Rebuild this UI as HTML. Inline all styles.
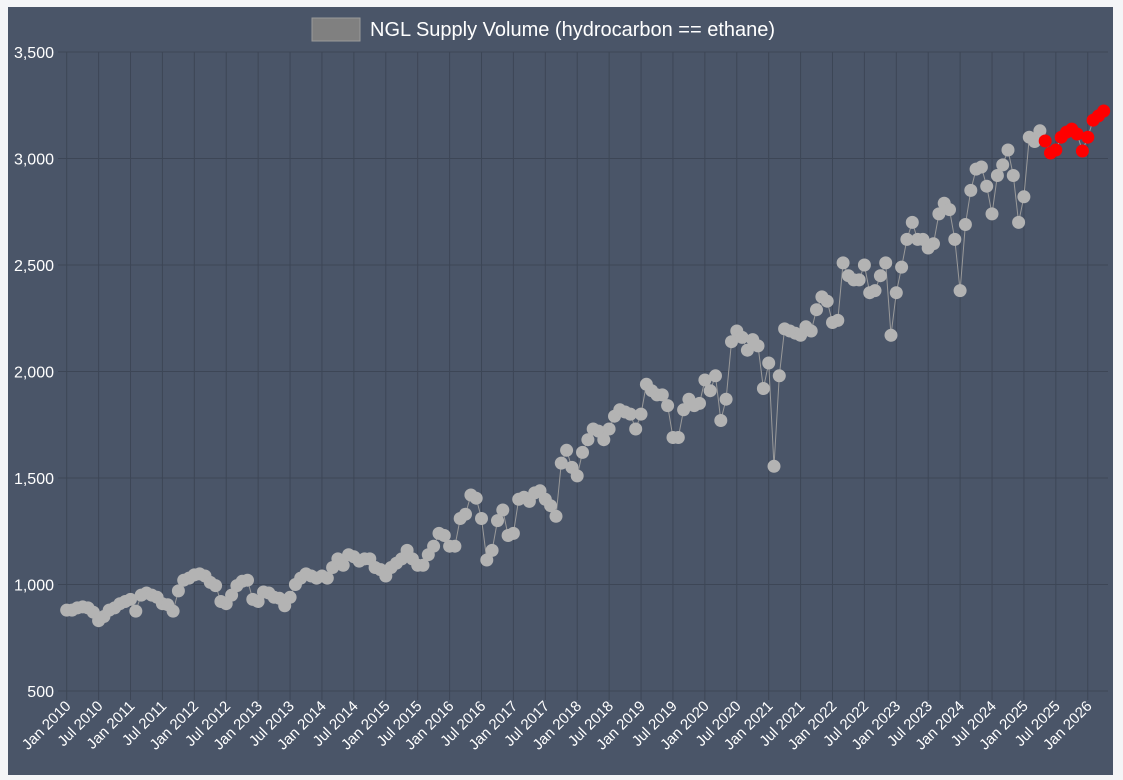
<!DOCTYPE html>
<html><head><meta charset="utf-8"><style>
html,body{margin:0;padding:0;background:#f4f5f7;}
svg{display:block;font-family:"Liberation Sans",sans-serif;}
</style></head><body>
<svg id="c" width="1123" height="780" xmlns="http://www.w3.org/2000/svg">
<rect x="8" y="7" width="1105" height="768" fill="#4a5568"/>
<rect x="312" y="18" width="48" height="23" fill="#808080" stroke="#9a9a9a" stroke-width="1"/>
<text x="370" y="36" font-size="20" fill="#ffffff">NGL Supply Volume (hydrocarbon == ethane)</text>
<g id="g"></g>
</svg>
<script>
var g=document.getElementById('g'),h='';
var X0=66.7,PM=5.318,R=1108;
function Y(v){return 691-(v-500)*0.213;}
for(var v=500;v<=3500;v+=500){var y=Y(v);
h+='<line x1="58" x2="'+R+'" y1="'+y+'" y2="'+y+'" stroke="#3d4656" stroke-width="1"/>';
h+='<text x="54" y="'+(y+6)+'" font-size="16" fill="#fff" text-anchor="end">'+v.toLocaleString('en-US')+'</text>';}
var mn=['Jan','Jul'];
for(var i=0;i<=32;i++){var x=X0+i*6*PM;
h+='<line x1="'+x+'" x2="'+x+'" y1="52" y2="700" stroke="#3d4656" stroke-width="1"/>';
var lab=mn[i%2]+' '+(2010+Math.floor(i/2));
h+='<text transform="translate('+(x+5)+',707) rotate(-45)" font-size="15" fill="#fff" text-anchor="end">'+lab+'</text>';}
var gr=[880,880,890,895,890,870,830,
850,880,890,910,920,930,875,
950,960,950,940,910,905,875,
970,1020,1030,1045,1050,1040,1010,995,920,910,
950,995,1015,1020,930,920,
965,960,940,935,900,
940,1000,1030,1050,1040,1030,1040,1030,1080,1120,1090,1140,1130,1110,1120,1120,1080,1070,1040,
1080,1100,1120,1160,1120,1090,1090,1140,1180,1240,1230,1180,1180,1310,1330,1420,1405,1310,1115,
1160,1300,1350,1230,1240,1400,1410,1390,1430,1440,1400,1370,1320,
1570,1630,1550,1510,1620,1680,1730,1720,1680,1730,1790,1820,1810,1800,1730,1800,1940,1910,1890,1890,1840,1690,1690,1820,1870,1840,1850,1960,1910,1980,1770,1870,2140,2190,2160,2100,2150,2120,1920,2040,1555,
1980,2200,2190,2180,2170,2210,2190,2290,2350,2330,2230,2240,2510,2450,2430,2430,2500,2370,2380,2450,2510,2170,
2370,2490,2620,2700,2620,2620,2580,2600,2740,2790,2760,2620,2380,
2690,2850,2950,2960,2870,2740,2920,2970,3040,2920,2700,2820,3100,3080,3130];
var red=[3082,3026,3040,3100,3124,3138,3115,3035,3100,3180,3200,3223];
var s0=184-gr.length,pts=[];
gr.forEach(function(v,i){pts.push([X0+(s0+i)*PM,Y(v),0]);});
red.forEach(function(v,i){pts.push([X0+(184+i)*PM,Y(v),1]);});
h+='<polyline fill="none" stroke="#9a9a9a" stroke-width="1" points="'+pts.map(function(p){return p[0].toFixed(1)+','+p[1].toFixed(1)}).join(' ')+'"/>';
pts.forEach(function(p){h+='<circle cx="'+p[0].toFixed(1)+'" cy="'+p[1].toFixed(1)+'" r="6.5" fill="'+(p[2]?'#ff0000':'#b3b3b3')+'"/>';});
g.innerHTML=h;
</script>
</body></html>
